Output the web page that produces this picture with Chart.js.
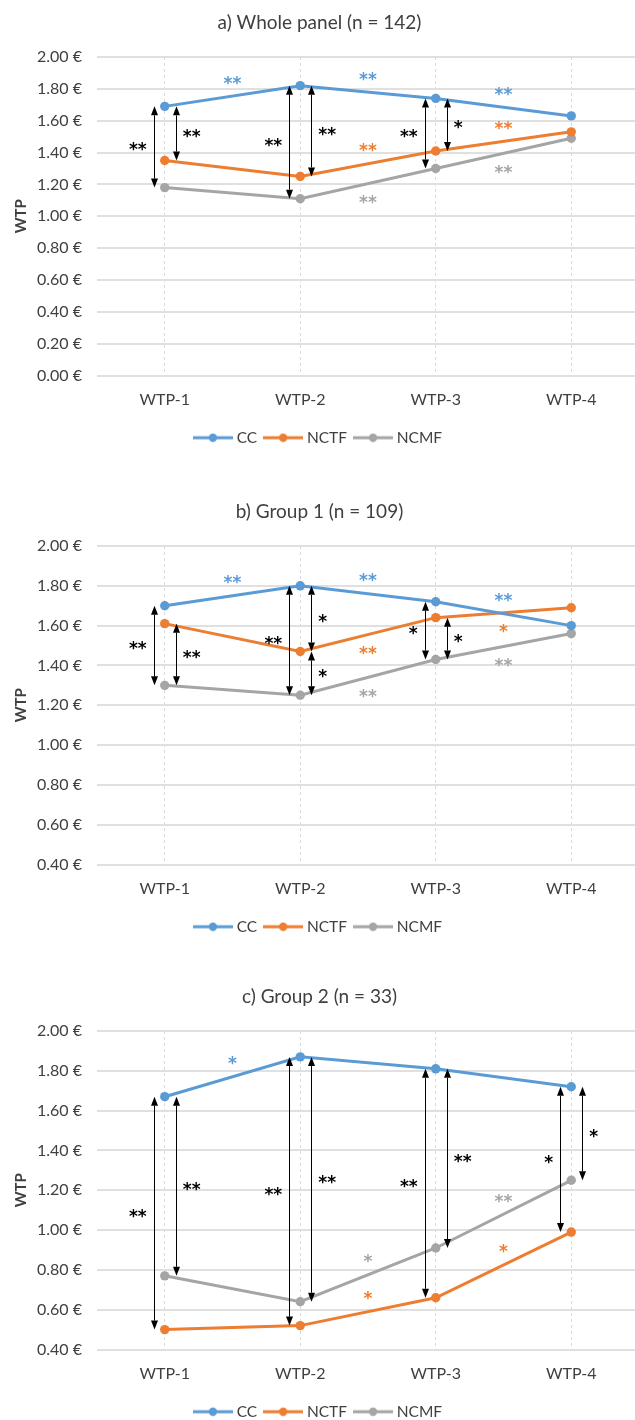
<!DOCTYPE html>
<html>
<head>
<meta charset="utf-8">
<script src="https://cdn.jsdelivr.net/npm/chart.js@4.4.1/dist/chart.umd.min.js"></script>
<style>
html, body { margin:0; padding:0; background:#fff; overflow:hidden; }
.panel { position:absolute; left:0; }
</style>
</head>
<body>
<div class="panel" style="top:1px"><canvas id="chart-a" width="650" height="470"></canvas></div>
<div class="panel" style="top:490px"><canvas id="chart-b" width="650" height="470"></canvas></div>
<div class="panel" style="top:975px"><canvas id="chart-c" width="650" height="470"></canvas></div>
<script>
const labels = ['WTP-1', 'WTP-2', 'WTP-3', 'WTP-4'];
const seriesNames = ['CC', 'NCTF', 'NCMF'];
const colors = ['#5B9BD5', '#ED7D31', '#A5A5A5'];

// a) whole panel
const panelCC = [1.69, 1.82, 1.74, 1.63];
const panelNCTF = [1.35, 1.25, 1.41, 1.53];
const panelNCMF = [1.18, 1.11, 1.30, 1.49];
// b) group 1
const group1CC = [1.70, 1.80, 1.72, 1.60];
const group1NCTF = [1.61, 1.47, 1.64, 1.69];
const group1NCMF = [1.30, 1.25, 1.43, 1.56];
// c) group 2
const group2CC = [1.67, 1.87, 1.81, 1.72];
const group2NCTF = [0.50, 0.52, 0.66, 0.99];
const group2NCMF = [0.77, 0.64, 0.91, 1.25];

const ticksFull = [0.00, 0.20, 0.40, 0.60, 0.80, 1.00, 1.20, 1.40, 1.60, 1.80, 2.00];
const ticksUpper = [0.40, 0.60, 0.80, 1.00, 1.20, 1.40, 1.60, 1.80, 2.00];

// differences between products at one WTP round: [category, side, upper series, lower series, mark]
const panelGaps = [[0,'left',0,2,'**'], [0,'right',0,1,'**'], [1,'left',0,2,'**'], [1,'right',0,1,'**'], [2,'left',0,2,'**'], [2,'right',0,1,'*']];
const group1Gaps = [[0,'left',0,2,'**'], [0,'right',1,2,'**'], [1,'left',0,2,'**'], [1,'right',0,1,'*'], [1,'right',1,2,'*'], [2,'left',0,2,'*'], [2,'right',1,2,'*']];
const group2Gaps = [[0,'left',0,1,'**'], [0,'right',0,2,'**'], [1,'left',0,1,'**'], [1,'right',0,2,'**'], [2,'left',0,1,'**'], [2,'right',0,2,'**'], [3,'left',0,1,'*'], [3,'right',0,2,'*']];

// changes between rounds: [series, from category, mark, above/below]
const panelTrends = [[0,0,'**','above'], [0,1,'**','above'], [0,2,'**','above'], [1,1,'**','above'], [1,2,'**','above'], [2,1,'**','below'], [2,2,'**','below']];
const group1Trends = [[0,0,'**','above'], [0,1,'**','above'], [0,2,'**','above'], [1,1,'**','below'], [1,2,'*','below'], [2,1,'**','below'], [2,2,'**','below']];
const group2Trends = [[0,0,'*','above'], [1,1,'*','above'], [1,2,'*','above'], [2,1,'*','above'], [2,2,'**','above']];

const FONT = 'Lato';
const TEXT = '#404040';

const drawArrow = (ctx, x, yTop, yBot) => {
  const head = 9, half = 3.5;
  x = Math.round(x) + 0.5;
  ctx.strokeStyle = '#000';
  ctx.fillStyle = '#000';
  ctx.lineWidth = 1;
  ctx.beginPath();
  ctx.moveTo(x, yTop + head);
  ctx.lineTo(x, yBot - head);
  ctx.stroke();
  ctx.beginPath();
  ctx.moveTo(x, yTop); ctx.lineTo(x - half, yTop + head); ctx.lineTo(x + half, yTop + head);
  ctx.closePath(); ctx.fill();
  ctx.beginPath();
  ctx.moveTo(x, yBot); ctx.lineTo(x - half, yBot - head); ctx.lineTo(x + half, yBot - head);
  ctx.closePath(); ctx.fill();
}

const drawMark = (ctx, text, x, y, align, color) => {
  ctx.font = 'bold 17px "DejaVu Sans"';
  ctx.fillStyle = color;
  ctx.textAlign = align;
  ctx.textBaseline = 'alphabetic';
  const m = ctx.measureText(text);
  ctx.fillText(text, x, y + (m.actualBoundingBoxAscent - m.actualBoundingBoxDescent) / 2);
}

const annotate = {
  id: 'annotate',
  afterDatasetsDraw(chart, args, opts) {
    const {ctx, scales: {x, y}} = chart;
    const data = chart.data.datasets.map(d => d.data);
    ctx.save();
    opts.gaps.forEach(([i, side, top, bottom, mark]) => {
      const dir = side === 'left' ? -1 : 1;
      const px = x.getPixelForValue(i) + dir * 11;
      const y1 = y.getPixelForValue(data[top][i]);
      const y2 = y.getPixelForValue(data[bottom][i]);
      drawArrow(ctx, px, y1, y2);
      drawMark(ctx, mark, px + dir * 7, (y1 + y2) / 2, dir < 0 ? 'right' : 'left', '#000');
    });
    opts.trends.forEach(([s, i, mark, pos]) => {
      const px = (x.getPixelForValue(i) + x.getPixelForValue(i + 1)) / 2;
      const py = y.getPixelForValue((data[s][i] + data[s][i + 1]) / 2) + (pos === 'above' ? -16 : 16);
      drawMark(ctx, mark, px, py, 'center', colors[s]);
    });
    ctx.restore();
  }
}

const legendIcon = (color) => {
  const c = document.createElement('canvas');
  c.width = 40; c.height = 10;
  const g = c.getContext('2d');
  g.strokeStyle = color; g.lineWidth = 3;
  g.beginPath(); g.moveTo(0, 5); g.lineTo(40, 5); g.stroke();
  g.fillStyle = color;
  g.beginPath(); g.arc(20, 5, 4.2, 0, Math.PI * 2); g.fill();
  return c;
}

const makeChart = (id, title, series, yTicks, gaps, trends) => {
  const options = {
    type: 'line',
    data: {
      labels: labels,
      datasets: series.map((values, i) => ({
        label: seriesNames[i],
        data: values,
        borderColor: colors[i],
        backgroundColor: colors[i],
        borderWidth: 3,
        pointRadius: 4.7,
        pointBorderWidth: 0,
        tension: 0
      }))
    },
    options: {
      responsive: false,
      animation: false,
      devicePixelRatio: 1,
      layout: { padding: { left: 0, right: 11, top: 0, bottom: 15.5 } },
      plugins: {
        title: {
          display: true, text: title, color: TEXT,
          font: { family: FONT, size: 19, weight: 'normal' },
          padding: { top: 10.6, bottom: 22.6 }
        },
        legend: {
          position: 'bottom',
          labels: {
            usePointStyle: true, pointStyleWidth: 32, padding: 10, color: TEXT,
            font: { family: FONT, size: 15.5 },
            generateLabels: c => c.data.datasets.map((d, i) => ({
              text: d.label, pointStyle: legendIcon(d.borderColor),
              fillStyle: d.borderColor, strokeStyle: d.borderColor, lineWidth: 0,
              hidden: false, datasetIndex: i, fontColor: TEXT
            }))
          }
        },
        tooltip: { enabled: false },
        annotate: { gaps: gaps, trends: trends }
      },
      scales: {
        x: {
          offset: true,
          grid: { offset: false, color: '#D9D9D9', lineWidth: 1, drawTicks: false },
          border: { display: false, dash: [3, 3] },
          ticks: { padding: 14.5, color: TEXT, font: { family: FONT, size: 16 } },
          afterFit: s => { s.height = 44.5 }
        },
        y: {
          min: yTicks[0], max: yTicks[yTicks.length - 1],
          afterBuildTicks: s => { s.ticks = yTicks.map(v => ({ value: v })) },
          grid: { color: '#E0E0E0', lineWidth: 2, drawTicks: false },
          border: { display: false },
          ticks: { padding: 15, color: TEXT, font: { family: FONT, size: 16 }, callback: v => v.toFixed(2) + ' €' },
          title: { display: true, text: 'WTP', color: TEXT, font: { family: FONT, size: 15, weight: 'bold' }, padding: { top: 12, bottom: 0 } },
          afterFit: s => { s.width = 97 }
        }
      }
    },
    plugins: [annotate]
  }
  new Chart(document.getElementById(id).getContext('2d'), options);
}

makeChart('chart-a', 'a) Whole panel (n = 142)', [panelCC, panelNCTF, panelNCMF], ticksFull, panelGaps, panelTrends);
makeChart('chart-b', 'b) Group 1 (n = 109)', [group1CC, group1NCTF, group1NCMF], ticksUpper, group1Gaps, group1Trends);
makeChart('chart-c', 'c) Group 2 (n = 33)', [group2CC, group2NCTF, group2NCMF], ticksUpper, group2Gaps, group2Trends);
</script>
</body>
</html>
